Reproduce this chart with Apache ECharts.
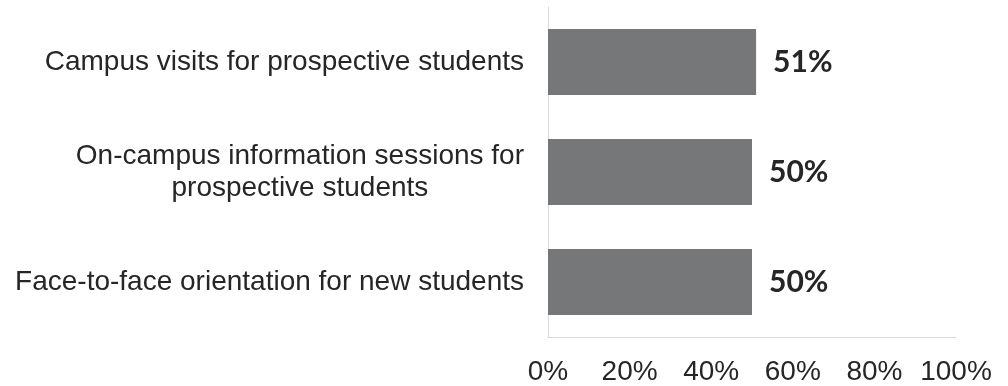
<!DOCTYPE html>
<html>
<head>
<meta charset="utf-8">
<script src="https://cdn.jsdelivr.net/npm/echarts@6/dist/echarts.min.js"></script>
<style>
  html, body { margin: 0; padding: 0; background: #ffffff; }
  #chart { width: 1008px; height: 386px; }
</style>
</head>
<body>
<div id="chart"></div>
<script>
// Survey items, listed top to bottom
const categories = [
  'Campus visits for prospective students',
  'On-campus information sessions for\nprospective students',
  'Face-to-face orientation for new students'
];
// Share of respondents (%)
const values = [51, 50, 50];
// Value-axis ticks
const xTicks = [0, 20, 40, 60, 80, 100];

const chart = echarts.init(document.getElementById('chart'), null, { renderer: 'canvas' });

const textColor = '#262626';
const axisColor = '#d9d9d9';

chart.setOption({
  backgroundColor: '#ffffff',
  animation: false,
  grid: { left: 548, right: 52, top: 7, bottom: 49, containLabel: false },
  xAxis: {
    type: 'value',
    min: xTicks[0],
    max: xTicks[xTicks.length - 1],
    interval: xTicks[1] - xTicks[0],
    axisLine: { show: true, lineStyle: { color: axisColor, width: 1 } },
    axisTick: { show: false },
    splitLine: { show: false },
    axisLabel: {
      margin: 21,
      color: textColor,
      fontFamily: 'Liberation Sans, Arial, sans-serif',
      fontSize: 28,
      formatter: v => v + '%'
    }
  },
  yAxis: {
    type: 'category',
    inverse: true,
    data: categories,
    axisLine: { show: true, lineStyle: { color: axisColor, width: 1 } },
    axisTick: { show: false },
    splitLine: { show: false },
    axisLabel: {
      margin: 24,
      color: textColor,
      fontFamily: 'Liberation Sans, Arial, sans-serif',
      fontSize: 28,
      lineHeight: 32,
      // wrapped labels: block sits right-aligned, lines centred within it
      formatter: function (v) {
        if (v.indexOf('\n') < 0) return v;
        return v.split('\n').map(s => '{w|' + s + '}').join('\n');
      },
      rich: {
        w: {
          align: 'center',
          color: textColor,
          fontFamily: 'Liberation Sans, Arial, sans-serif',
          fontSize: 28,
          lineHeight: 32
        }
      }
    }
  },
  series: [{
    type: 'bar',
    data: values,
    barWidth: '60%',
    itemStyle: { color: '#767778' },
    label: {
      show: true,
      position: 'right',
      distance: 17,
      color: textColor,
      fontFamily: 'Lato, sans-serif',
      fontWeight: 700,
      fontSize: 30,
      formatter: p => p.value + '%'
    }
  }]
});
</script>
</body>
</html>
